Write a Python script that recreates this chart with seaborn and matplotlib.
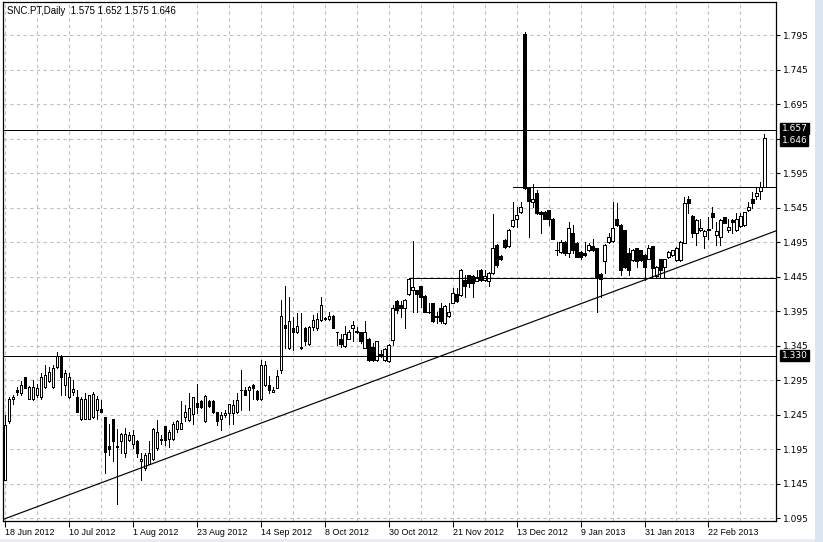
import numpy as np
import seaborn as sns
import matplotlib.pyplot as plt
from matplotlib.patches import Rectangle
from matplotlib.transforms import blended_transform_factory

symbol = "SNC.PT,Daily"

# daily OHLC, 18 Jun 2012 .. early Mar 2013
opens = [1.150, 1.235, 1.267, 1.281, 1.276, 1.299, 1.268, 1.267, 1.273, 1.271,
         1.285, 1.294, 1.285, 1.314, 1.329, 1.288, 1.271, 1.277, 1.271, 1.238,
         1.239, 1.239, 1.241, 1.252, 1.253, 1.241, 1.199, 1.239, 1.200, 1.206,
         1.189, 1.208, 1.203, 1.206, 1.177, 1.167, 1.174, 1.180, 1.196, 1.210,
         1.228, 1.209, 1.209, 1.224, 1.224, 1.242, 1.237, 1.246, 1.262, 1.264,
         1.235, 1.264, 1.265, 1.248, 1.238, 1.244, 1.247, 1.247, 1.248, 1.281,
         1.281, 1.281, 1.288, 1.279, 1.267, 1.288, 1.288, 1.278, 1.284, 1.310,
         1.375, 1.341, 1.371, 1.364, 1.343, 1.371, 1.347, 1.372, 1.371, 1.382,
         1.385, 1.384, 1.388, 1.365, 1.355, 1.344, 1.355, 1.371, 1.366, 1.364,
         1.341, 1.355, 1.343, 1.324, 1.333, 1.324, 1.322, 1.353, 1.410, 1.404,
         1.400, 1.420, 1.426, 1.425, 1.431, 1.417, 1.394, 1.406, 1.388, 1.400,
         1.377, 1.388, 1.407, 1.420, 1.418, 1.440, 1.447, 1.446, 1.439, 1.455,
         1.440, 1.438, 1.450, 1.491, 1.475, 1.498, 1.489, 1.518, 1.529, 1.538,
         1.796, 1.573, 1.553, 1.566, 1.539, 1.539, 1.541, 1.529, 1.484, 1.480,
         1.495, 1.479, 1.508, 1.494, 1.481, 1.479, 1.483, 1.489, 1.486, 1.449,
         1.468, 1.495, 1.497, 1.529, 1.520, 1.512, 1.479, 1.469, 1.486, 1.483,
         1.476, 1.471, 1.489, 1.446, 1.470, 1.459, 1.473, 1.476, 1.469, 1.469,
         1.494, 1.558, 1.533, 1.508, 1.512, 1.504, 1.514, 1.537, 1.505, 1.503,
         1.531, 1.512, 1.527, 1.512, 1.518, 1.520, 1.541, 1.558, 1.562, 1.569,
         1.575]
highs = [1.244, 1.271, 1.273, 1.285, 1.293, 1.300, 1.286, 1.295, 1.290, 1.305,
         1.317, 1.314, 1.317, 1.335, 1.331, 1.310, 1.305, 1.295, 1.280, 1.271,
         1.276, 1.274, 1.277, 1.272, 1.266, 1.241, 1.232, 1.239, 1.224, 1.218,
         1.226, 1.220, 1.222, 1.208, 1.189, 1.189, 1.206, 1.225, 1.237, 1.215,
         1.229, 1.223, 1.234, 1.237, 1.264, 1.259, 1.276, 1.271, 1.290, 1.266,
         1.273, 1.266, 1.266, 1.249, 1.249, 1.251, 1.261, 1.266, 1.276, 1.310,
         1.285, 1.286, 1.289, 1.280, 1.324, 1.322, 1.301, 1.285, 1.310, 1.411,
         1.431, 1.416, 1.386, 1.392, 1.392, 1.372, 1.374, 1.389, 1.392, 1.416,
         1.387, 1.394, 1.389, 1.365, 1.362, 1.373, 1.367, 1.380, 1.372, 1.365,
         1.380, 1.356, 1.348, 1.352, 1.339, 1.342, 1.347, 1.404, 1.411, 1.409,
         1.413, 1.442, 1.496, 1.426, 1.432, 1.418, 1.406, 1.407, 1.394, 1.407,
         1.404, 1.407, 1.429, 1.428, 1.456, 1.447, 1.448, 1.447, 1.454, 1.456,
         1.454, 1.451, 1.535, 1.492, 1.476, 1.499, 1.514, 1.553, 1.546, 1.553,
         1.799, 1.574, 1.579, 1.570, 1.540, 1.540, 1.542, 1.530, 1.495, 1.498,
         1.496, 1.524, 1.520, 1.495, 1.482, 1.495, 1.493, 1.500, 1.487, 1.450,
         1.492, 1.508, 1.553, 1.551, 1.521, 1.513, 1.487, 1.485, 1.487, 1.484,
         1.477, 1.491, 1.490, 1.460, 1.471, 1.471, 1.482, 1.484, 1.488, 1.496,
         1.561, 1.562, 1.534, 1.528, 1.529, 1.512, 1.532, 1.546, 1.524, 1.528,
         1.532, 1.529, 1.528, 1.537, 1.537, 1.539, 1.553, 1.568, 1.575, 1.582,
         1.652]
lows = [1.150, 1.233, 1.261, 1.273, 1.274, 1.283, 1.267, 1.266, 1.271, 1.268,
        1.284, 1.292, 1.284, 1.312, 1.273, 1.273, 1.269, 1.273, 1.249, 1.237,
        1.239, 1.239, 1.240, 1.239, 1.248, 1.161, 1.186, 1.177, 1.116, 1.189,
        1.184, 1.207, 1.196, 1.184, 1.150, 1.165, 1.173, 1.179, 1.194, 1.203,
        1.201, 1.198, 1.208, 1.220, 1.224, 1.235, 1.235, 1.232, 1.247, 1.254,
        1.234, 1.256, 1.247, 1.230, 1.223, 1.242, 1.231, 1.232, 1.247, 1.252,
        1.273, 1.252, 1.267, 1.266, 1.266, 1.287, 1.276, 1.277, 1.283, 1.305,
        1.341, 1.340, 1.339, 1.363, 1.340, 1.346, 1.346, 1.367, 1.368, 1.381,
        1.382, 1.382, 1.370, 1.346, 1.343, 1.343, 1.355, 1.351, 1.363, 1.348,
        1.341, 1.323, 1.323, 1.322, 1.329, 1.323, 1.321, 1.346, 1.392, 1.387,
        1.370, 1.419, 1.393, 1.394, 1.401, 1.393, 1.392, 1.379, 1.377, 1.377,
        1.376, 1.386, 1.406, 1.408, 1.417, 1.416, 1.430, 1.416, 1.438, 1.439,
        1.439, 1.431, 1.449, 1.459, 1.469, 1.487, 1.488, 1.517, 1.517, 1.537,
        1.572, 1.503, 1.546, 1.536, 1.508, 1.528, 1.520, 1.499, 1.476, 1.479,
        1.476, 1.474, 1.479, 1.473, 1.471, 1.475, 1.482, 1.482, 1.394, 1.416,
        1.450, 1.494, 1.495, 1.519, 1.447, 1.458, 1.447, 1.468, 1.459, 1.468,
        1.440, 1.470, 1.445, 1.445, 1.444, 1.445, 1.472, 1.475, 1.468, 1.468,
        1.493, 1.537, 1.503, 1.491, 1.511, 1.486, 1.500, 1.515, 1.491, 1.491,
        1.522, 1.510, 1.508, 1.511, 1.517, 1.519, 1.540, 1.544, 1.557, 1.558,
        1.575]
closes = [1.230, 1.268, 1.271, 1.277, 1.288, 1.284, 1.285, 1.285, 1.283, 1.299,
          1.302, 1.307, 1.313, 1.330, 1.300, 1.305, 1.299, 1.282, 1.249, 1.267,
          1.267, 1.273, 1.275, 1.268, 1.248, 1.191, 1.195, 1.206, 1.198, 1.217,
          1.217, 1.215, 1.216, 1.189, 1.181, 1.186, 1.189, 1.224, 1.219, 1.208,
          1.208, 1.220, 1.231, 1.235, 1.233, 1.249, 1.255, 1.270, 1.256, 1.256,
          1.272, 1.257, 1.248, 1.236, 1.244, 1.247, 1.260, 1.259, 1.266, 1.280,
          1.274, 1.285, 1.283, 1.267, 1.317, 1.317, 1.280, 1.281, 1.301, 1.388,
          1.371, 1.381, 1.364, 1.373, 1.342, 1.351, 1.372, 1.382, 1.384, 1.404,
          1.383, 1.388, 1.371, 1.364, 1.347, 1.362, 1.365, 1.375, 1.364, 1.351,
          1.364, 1.324, 1.324, 1.351, 1.330, 1.340, 1.346, 1.400, 1.396, 1.400,
          1.411, 1.441, 1.430, 1.420, 1.416, 1.394, 1.393, 1.380, 1.387, 1.380,
          1.402, 1.394, 1.421, 1.409, 1.455, 1.431, 1.436, 1.435, 1.444, 1.440,
          1.446, 1.450, 1.487, 1.462, 1.470, 1.488, 1.513, 1.527, 1.534, 1.546,
          1.573, 1.555, 1.558, 1.537, 1.536, 1.529, 1.529, 1.500, 1.483, 1.495,
          1.479, 1.515, 1.483, 1.474, 1.473, 1.476, 1.491, 1.483, 1.445, 1.442,
          1.491, 1.503, 1.516, 1.520, 1.454, 1.459, 1.454, 1.484, 1.467, 1.469,
          1.459, 1.486, 1.457, 1.459, 1.455, 1.470, 1.481, 1.483, 1.486, 1.495,
          1.551, 1.552, 1.508, 1.527, 1.516, 1.511, 1.513, 1.531, 1.511, 1.527,
          1.523, 1.517, 1.524, 1.529, 1.533, 1.538, 1.546, 1.552, 1.566, 1.575,
          1.646]

date_labels = ["18 Jun 2012", "10 Jul 2012", "1 Aug 2012", "23 Aug 2012",
               "14 Sep 2012", "8 Oct 2012", "30 Oct 2012", "21 Nov 2012",
               "13 Dec 2012", "9 Jan 2013", "31 Jan 2013", "22 Feb 2013"]
date_pos = [0, 16, 32, 48, 64, 80, 96, 112, 128, 144, 160, 176]

price_ticks = [1.095, 1.145, 1.195, 1.245, 1.295, 1.345, 1.395, 1.445,
               1.495, 1.545, 1.595, 1.645, 1.695, 1.745, 1.795]
price_labels = ["1.095", "1.145", "1.195", "1.245", "1.295", "1.345", "1.395", "1.445",
                "1.495", "1.545", "1.595", "", "1.695", "1.745", "1.795"]

# drawn objects: full-width levels, partial levels (start bar, price), trend line
full_levels = [1.657, 1.330]
partial_levels = [(127, 1.575), (101, 1.443)]
trend_a = (0, 1.094)
trend_b = (190, 1.505)

sns.set_style("white")
plt.rcParams['font.family'] = ['DejaVu Sans']

fig = plt.figure(figsize=(8.23, 5.42), dpi=100)
fig.patch.set_facecolor("white")
fig.patches.append(Rectangle((815 / 823, 0), 8 / 823, 1, transform=fig.transFigure,
                             facecolor="#dbe5f1", edgecolor="none"))
fig.patches.append(Rectangle((0, 0), 815 / 823, 3 / 542, transform=fig.transFigure,
                             facecolor="#e9edf2", edgecolor="none"))

ax = fig.add_axes([3 / 823, 21 / 542, 773 / 823, 519 / 542])
ax.set_xlim(-0.5, 192.9)
ax.set_ylim(1.0907, 1.843)

o = np.array(opens)
h = np.array(highs)
l = np.array(lows)
c = np.array(closes)
x = np.arange(len(o))
up = c >= o

# grid
ax.set_xticks(date_pos)
ax.set_xticks([p + 8 for p in date_pos], minor=True)
ax.set_xticklabels(date_labels)
ax.set_yticks(price_ticks)
ax.set_yticklabels(price_labels)
ax.grid(True, which="both", axis="x", color="#c0c0c0", linestyle=(0, (3, 3)), linewidth=0.8)
ax.grid(True, which="major", axis="y", color="#c0c0c0", linestyle=(0, (3, 3)), linewidth=0.8)
ax.set_axisbelow(True)

# candles
lw = 0.68
ax.vlines(x, l, h, color="black", linewidth=lw, zorder=2, antialiased=False)
ax.bar(x, np.abs(c - o), bottom=np.minimum(o, c), width=0.62,
       color=np.where(up, "white", "black"), edgecolor="black", linewidth=lw,
       zorder=3, antialiased=False)

# levels and trend line
for lv in full_levels:
    ax.axhline(lv, color="black", linewidth=lw, zorder=4, antialiased=False)
xmax = ax.get_xlim()[1]
for start, lv in partial_levels:
    ax.hlines(lv, start, xmax, color="black", linewidth=lw, zorder=4, antialiased=False)
ax.axline(trend_a, trend_b, color="black", linewidth=0.85, zorder=4)

for sp in ax.spines.values():
    sp.set_color("black")
    sp.set_linewidth(0.9)

ax.yaxis.tick_right()
ax.tick_params(axis="y", which="major", right=True, left=False, length=3, width=0.8,
               pad=2, labelsize=6.5, colors="black")
ax.tick_params(axis="x", which="major", bottom=True, length=4, width=0.8, pad=1,
               labelsize=6.4, colors="black")
ax.tick_params(axis="x", which="minor", bottom=False)
for lab in ax.get_xticklabels():
    lab.set_horizontalalignment("left")
    lab.set_family("Liberation Sans")

# price boxes on the right scale
tr = blended_transform_factory(ax.transAxes, ax.transData)
box_prices = [full_levels[0], closes[-1], full_levels[1]]
box_offsets = [1.6, -1.8, 0]
for bp, off in zip(box_prices, box_offsets):
    ax.annotate(f"{bp:.3f}", xy=(1.0, bp), xycoords=tr, xytext=(4, off),
                textcoords="offset points", ha="left", va="center", fontsize=6.5,
                color="white", zorder=6, annotation_clip=False,
                bbox=dict(boxstyle="square,pad=0.12", facecolor="black", edgecolor="black"))

fig.text(7 / 823, 1 - 11 / 542,
         f"{symbol}  {opens[-1]:.3f} {highs[-1]:.3f} {lows[-1]:.3f} {closes[-1]:.3f}",
         ha="left", va="center", fontsize=7, family="Liberation Sans", color="black")

fig.savefig("out.png", dpi=100)
